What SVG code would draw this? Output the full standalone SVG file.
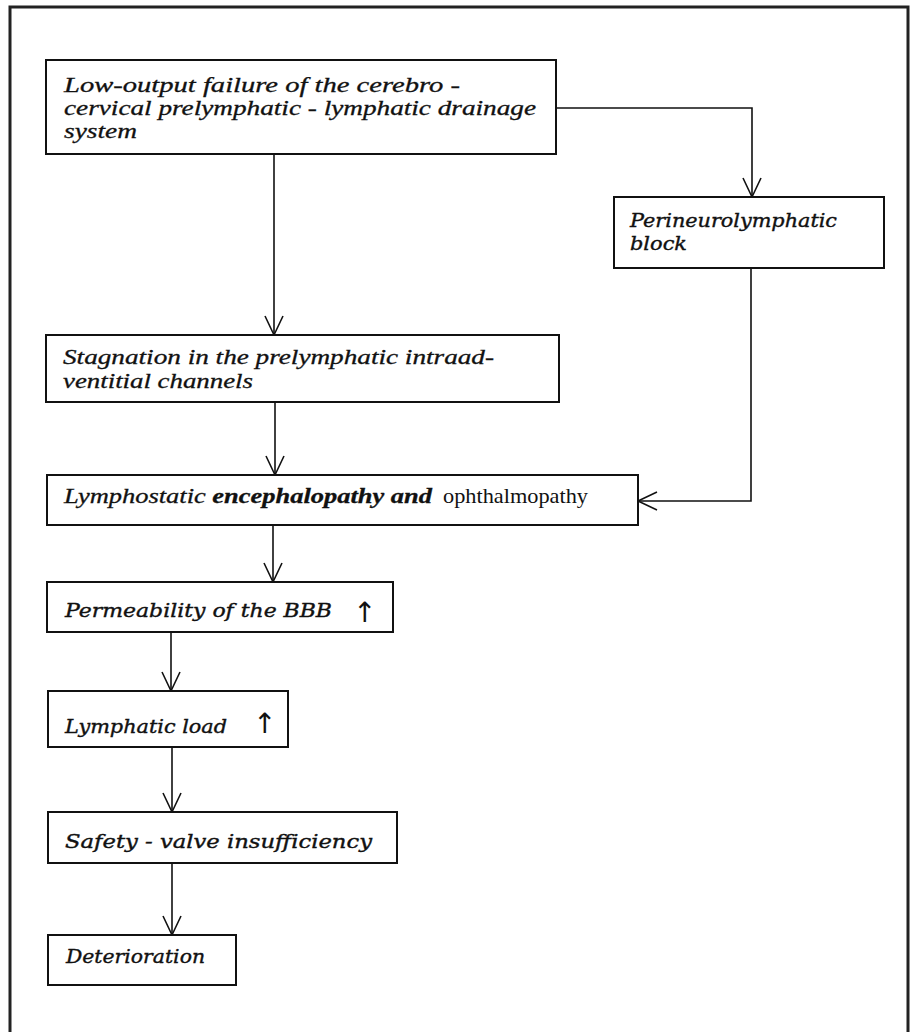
<svg xmlns="http://www.w3.org/2000/svg" width="913" height="1032" viewBox="0 0 913 1032">
<style>
.frame{fill:none;stroke:#222;stroke-width:3}
.box{fill:#fff;stroke:#111;stroke-width:2}
.con{fill:none;stroke:#111;stroke-width:1.6}
.head{fill:none;stroke:#111;stroke-width:1.6}
.n{font-family:"Liberation Serif",serif;font-style:italic;font-size:21px;fill:#111;stroke:#111;stroke-width:0.3}
.w{font-family:"DejaVu Serif",serif;font-style:italic;font-size:19px;fill:#111;stroke:#111;stroke-width:0.4}
.up{font-family:"DejaVu Sans",sans-serif;font-style:normal;font-size:28px;fill:#111}
.r{font-family:"Liberation Serif",serif;font-style:normal;font-size:21px;fill:#111}
</style>
<defs>
<marker id="v" viewBox="-21 -11 23 22" refX="0" refY="0" markerWidth="23" markerHeight="22" markerUnits="userSpaceOnUse" orient="auto" overflow="visible">
<path d="M-19,-9 L0,0 L-19,9" class="head"/>
</marker>
</defs>
<rect width="913" height="1032" fill="#fff"/>
<path class="frame" d="M10,1040 V7 H908 V1040"/>
<g id="connectors">
<path class="con" d="M274,154 V335" marker-end="url(#v)"/>
<path class="con" d="M275,402 V475" marker-end="url(#v)"/>
<path class="con" d="M556,108 H752 V197" marker-end="url(#v)"/>
<path class="con" d="M751,268 V501 H638" marker-end="url(#v)"/>
<path class="con" d="M273,525 V582" marker-end="url(#v)"/>
<path class="con" d="M171,632 V691" marker-end="url(#v)"/>
<path class="con" d="M172,747 V812" marker-end="url(#v)"/>
<path class="con" d="M172,863 V935" marker-end="url(#v)"/>
</g>
<g id="n1">
<rect class="box" x="46" y="60" width="510" height="94"/>
<text class="n" x="64" y="92" textLength="396" lengthAdjust="spacingAndGlyphs">Low-output failure of the cerebro -</text>
<text class="n" x="64" y="115" textLength="472" lengthAdjust="spacingAndGlyphs">cervical prelymphatic - lymphatic drainage</text>
<text class="n" x="64" y="138" textLength="73" lengthAdjust="spacingAndGlyphs">system</text>
</g>
<g id="n2">
<rect class="box" x="614" y="197" width="270" height="71"/>
<text class="w" x="630" y="227" textLength="207" lengthAdjust="spacingAndGlyphs">Perineurolymphatic</text>
<text class="w" x="630" y="250" textLength="57" lengthAdjust="spacingAndGlyphs">block</text>
</g>
<g id="n3">
<rect class="box" x="46" y="335" width="513" height="67"/>
<text class="n" x="63" y="364" textLength="431" lengthAdjust="spacingAndGlyphs">Stagnation in the prelymphatic intraad-</text>
<text class="n" x="63" y="388" textLength="190" lengthAdjust="spacingAndGlyphs">ventitial channels</text>
</g>
<g id="n4">
<rect class="box" x="47" y="475" width="591" height="50"/>
<text class="n" x="64" y="503" textLength="368" lengthAdjust="spacingAndGlyphs">Lymphostatic <tspan font-weight="bold">encephalopathy and</tspan></text>
<text class="r" x="443" y="503" textLength="145" lengthAdjust="spacingAndGlyphs">ophthalmopathy</text>
</g>
<g id="n5">
<rect class="box" x="47" y="582" width="346" height="50"/>
<text class="w" x="65" y="617" textLength="267" lengthAdjust="spacingAndGlyphs">Permeability of the BBB</text>
<text class="up" x="353" y="622">↑</text>
</g>
<g id="n6">
<rect class="box" x="48" y="691" width="240" height="56"/>
<text class="w" x="65" y="733" textLength="162" lengthAdjust="spacingAndGlyphs">Lymphatic load</text>
<text class="up" x="253" y="733">↑</text>
</g>
<g id="n7">
<rect class="box" x="48" y="812" width="349" height="51"/>
<text class="w" x="65" y="848" textLength="307" lengthAdjust="spacingAndGlyphs">Safety - valve insufficiency</text>
</g>
<g id="n8">
<rect class="box" x="48" y="935" width="188" height="50"/>
<text class="w" x="66" y="963" textLength="139" lengthAdjust="spacingAndGlyphs">Deterioration</text>
</g>
</svg>
